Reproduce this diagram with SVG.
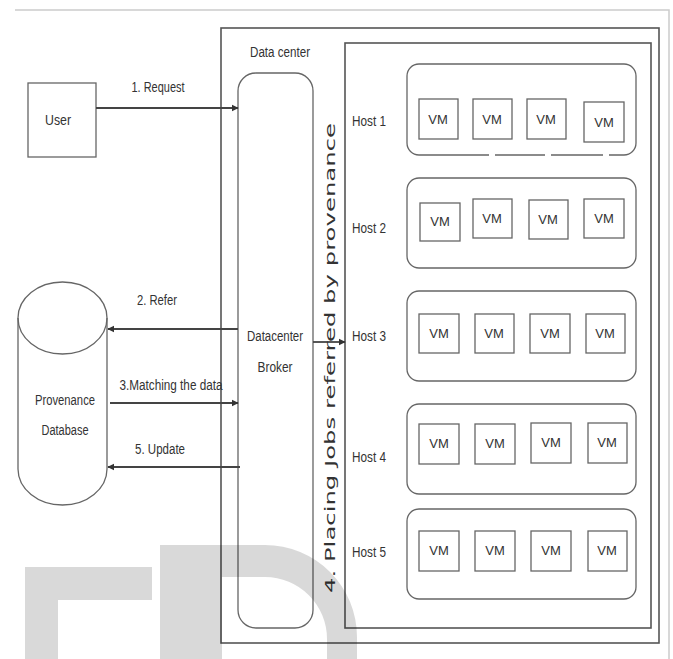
<svg xmlns="http://www.w3.org/2000/svg" width="673" height="659" viewBox="0 0 673 659">
<style>
  .box{fill:none;stroke:#555;stroke-width:1.6}
  .thin{fill:none;stroke:#666;stroke-width:1.3}
  .t{font-family:"Liberation Sans Narrow","Liberation Sans",Arial,sans-serif;font-size:14px;fill:#333}
  .vm{font-family:"Liberation Sans Narrow","Liberation Sans",Arial,sans-serif;font-size:13px;fill:#333}
  .conn{stroke:#444;stroke-width:1.8;fill:none}
  .vt{font-family:"DejaVu Sans",Verdana,sans-serif;font-size:14px;fill:#333}
</style>
<defs>
  <marker id="arr" viewBox="0 0 10 10" refX="9" refY="5" markerWidth="4" markerHeight="4" orient="auto-start-reverse">
    <path d="M0,0 L10,5 L0,10 Z" fill="#333"/>
  </marker>
</defs>
<rect width="673" height="659" fill="#fff"/>
<g id="frame">
  <path d="M15,10 H669 V659" fill="none" stroke="#ccc" stroke-width="1.5"/>
</g>
<g id="datacenter">
  <rect x="221" y="28" width="438" height="615" class="box"/>
  <text x="280" y="57" text-anchor="middle" class="t" textLength="60" lengthAdjust="spacingAndGlyphs">Data center</text>
</g>
<g id="hostarea">
  <rect x="345" y="43" width="306" height="585" class="box"/>
</g>
<g id="user">
  <rect x="28" y="83" width="68" height="74" class="thin"/>
  <text x="58" y="125" text-anchor="middle" class="t" textLength="26" lengthAdjust="spacingAndGlyphs">User</text>
</g>
<g id="provenance-db">
  <path d="M18,318 V469 A44.5,36 0 0 0 107,469 V318" class="thin"/>
  <ellipse cx="62.5" cy="318" rx="44.5" ry="36" class="thin"/>
  <text x="65" y="405" text-anchor="middle" class="t" textLength="60" lengthAdjust="spacingAndGlyphs">Provenance</text>
  <text x="65" y="435" text-anchor="middle" class="t" textLength="47" lengthAdjust="spacingAndGlyphs">Database</text>
</g>
<g id="broker">
  <rect x="238" y="73" width="75" height="555" rx="18" class="thin"/>
  <text x="275" y="341" text-anchor="middle" class="t" textLength="56" lengthAdjust="spacingAndGlyphs">Datacenter</text>
  <text x="275" y="372" text-anchor="middle" class="t" textLength="35" lengthAdjust="spacingAndGlyphs">Broker</text>
</g>
<g id="host1">
  <rect x="407" y="64" width="229" height="91" rx="12" class="thin"/>
  <text x="369" y="126" text-anchor="middle" class="t" textLength="34" lengthAdjust="spacingAndGlyphs">Host 1</text>
  <g class="thin"><rect x="419" y="99" width="39" height="40"/><rect x="473" y="99" width="39" height="40"/><rect x="527" y="99" width="39" height="40"/><rect x="584" y="102" width="40" height="40"/></g>
  <g class="vm" text-anchor="middle"><text x="438" y="124">VM</text><text x="492" y="124">VM</text><text x="546" y="124">VM</text><text x="604" y="127">VM</text></g>
</g>
<g id="host2">
  <rect x="407" y="178" width="229" height="90" rx="12" class="thin"/>
  <text x="369" y="233" text-anchor="middle" class="t" textLength="34" lengthAdjust="spacingAndGlyphs">Host 2</text>
  <g class="thin"><rect x="420" y="203" width="40" height="38"/><rect x="473" y="199" width="39" height="39"/><rect x="529" y="200" width="39" height="39"/><rect x="584" y="199" width="40" height="39"/></g>
  <g class="vm" text-anchor="middle"><text x="440" y="226">VM</text><text x="492" y="223">VM</text><text x="548" y="224">VM</text><text x="604" y="223">VM</text></g>
</g>
<g id="host3">
  <rect x="407" y="291" width="229" height="90" rx="12" class="thin"/>
  <text x="369" y="341" text-anchor="middle" class="t" textLength="34" lengthAdjust="spacingAndGlyphs">Host 3</text>
  <g class="thin"><rect x="419" y="314" width="40" height="39"/><rect x="475" y="314" width="39" height="39"/><rect x="530" y="314" width="40" height="39"/><rect x="586" y="314" width="39" height="39"/></g>
  <g class="vm" text-anchor="middle"><text x="439" y="338">VM</text><text x="494" y="338">VM</text><text x="550" y="338">VM</text><text x="605" y="338">VM</text></g>
</g>
<g id="host4">
  <rect x="407" y="404" width="229" height="90" rx="12" class="thin"/>
  <text x="369" y="462" text-anchor="middle" class="t" textLength="34" lengthAdjust="spacingAndGlyphs">Host 4</text>
  <g class="thin"><rect x="419" y="424" width="40" height="40"/><rect x="475" y="424" width="40" height="40"/><rect x="531" y="423" width="40" height="40"/><rect x="588" y="423" width="39" height="40"/></g>
  <g class="vm" text-anchor="middle"><text x="439" y="448">VM</text><text x="495" y="448">VM</text><text x="551" y="447">VM</text><text x="607" y="447">VM</text></g>
</g>
<g id="host5">
  <rect x="407" y="509" width="229" height="90" rx="12" class="thin"/>
  <text x="369" y="557" text-anchor="middle" class="t" textLength="34" lengthAdjust="spacingAndGlyphs">Host 5</text>
  <g class="thin"><rect x="419" y="531" width="40" height="40"/><rect x="475" y="531" width="40" height="40"/><rect x="531" y="531" width="40" height="40"/><rect x="588" y="531" width="39" height="40"/></g>
  <g class="vm" text-anchor="middle"><text x="439" y="555">VM</text><text x="495" y="555">VM</text><text x="551" y="555">VM</text><text x="607" y="555">VM</text></g>
</g>
<g id="connectors">
  <line x1="96" y1="108" x2="238" y2="108" class="conn" marker-end="url(#arr)"/>
  <text x="158" y="92" text-anchor="middle" class="t" textLength="53" lengthAdjust="spacingAndGlyphs">1. Request</text>
  <line x1="238" y1="329" x2="108" y2="329" class="conn" marker-end="url(#arr)"/>
  <text x="157" y="305" text-anchor="middle" class="t" textLength="40" lengthAdjust="spacingAndGlyphs">2. Refer</text>
  <line x1="110" y1="403" x2="238" y2="403" class="conn" marker-end="url(#arr)"/>
  <text x="171" y="390" text-anchor="middle" class="t" textLength="103" lengthAdjust="spacingAndGlyphs">3.Matching the data</text>
  <line x1="240" y1="467" x2="108" y2="467" class="conn" marker-end="url(#arr)"/>
  <text x="160" y="454" text-anchor="middle" class="t" textLength="50" lengthAdjust="spacingAndGlyphs">5. Update</text>
  <line x1="313" y1="342" x2="345" y2="342" class="conn" marker-end="url(#arr)"/>
  <text transform="translate(335,358) rotate(-90)" text-anchor="middle" class="vt" textLength="470" lengthAdjust="spacingAndGlyphs">4. Placing Jobs referred by provenance</text>
</g>
<g id="host1-gaps" fill="#fff">
  <rect x="489" y="153" width="6" height="4"/><rect x="545" y="153" width="6" height="4"/><rect x="603" y="153" width="6" height="4"/>
</g>
<g id="watermark" fill="#000" fill-opacity="0.15">
  <path d="M25,567 H152 V600 H58 V659 H25 Z"/>
  <path fill-rule="evenodd" d="M160,545 H265 A92,92 0 0 1 357,637 V659 H160 Z M222,577 H265 A62,62 0 0 1 327,639 V659 H222 Z"/>
</g>
</svg>
